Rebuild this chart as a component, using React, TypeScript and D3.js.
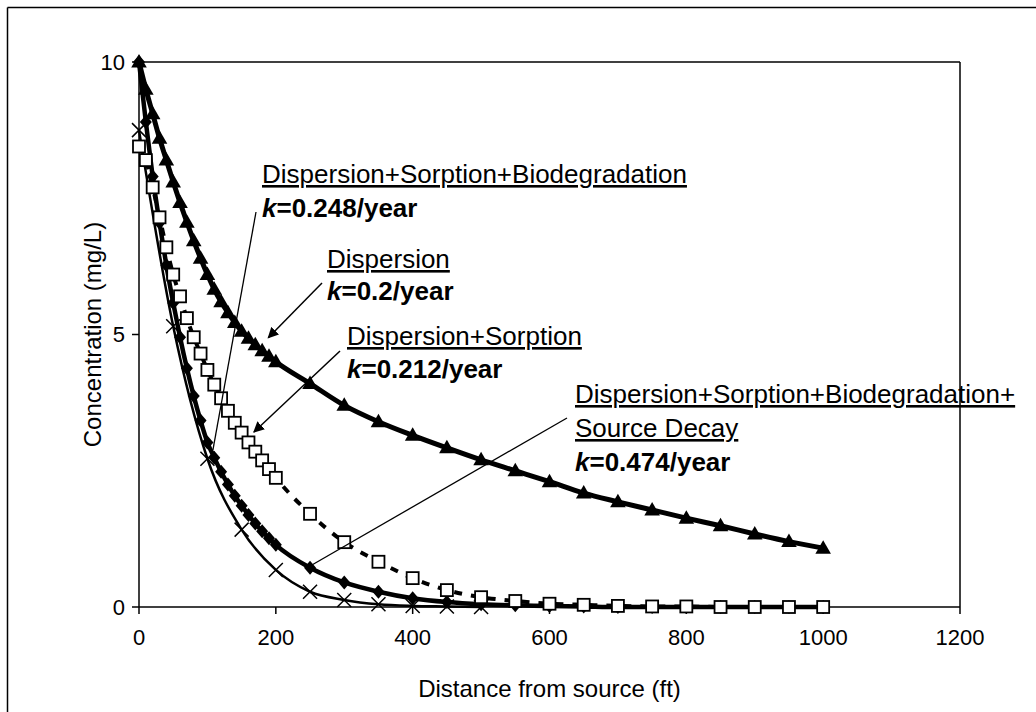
import React from "react";
import * as d3 from "d3";

// ---------- data ----------
const xDense = [0, 10, 20, 30, 40, 50, 60, 70, 80, 90, 100, 110, 120, 130, 140, 150, 160, 170, 180, 190, 200,
  250, 300, 350, 400, 450, 500, 550, 600, 650, 700, 750, 800, 850, 900, 950, 1000];

// Dispersion (triangles)
const dispersion = [10, 9.5, 9.05, 8.6, 8.2, 7.8, 7.42, 7.06, 6.72, 6.4, 6.1, 5.83, 5.6, 5.4, 5.22, 5.06, 4.93, 4.81, 4.7, 4.6, 4.5,
  4.1, 3.7, 3.4, 3.15, 2.92, 2.7, 2.5, 2.3, 2.09, 1.93, 1.78, 1.63, 1.49, 1.34, 1.2, 1.08];

// Dispersion + Sorption (open squares)
const dispSorption = [8.45, 8.2, 7.7, 7.15, 6.6, 6.1, 5.7, 5.3, 4.95, 4.65, 4.35, 4.08, 3.83, 3.6, 3.38, 3.2, 3.02, 2.85, 2.69, 2.53, 2.37,
  1.71, 1.19, 0.83, 0.53, 0.31, 0.18, 0.11, 0.06, 0.04, 0.02, 0.01, 0.01, 0, 0, 0, 0];

// Dispersion + Sorption + Biodegradation (diamonds)
const dispSorpBio = [10, 8.9, 7.9, 7.05, 6.27, 5.58, 4.95, 4.38, 3.87, 3.42, 3.02, 2.74, 2.48, 2.25, 2.04, 1.86, 1.69, 1.53, 1.39, 1.26, 1.14,
  0.72, 0.45, 0.28, 0.16, 0.09, 0.05, 0.03, 0.02, 0.01, 0, 0, 0, 0, 0, 0, 0];

// Dispersion + Sorption + Biodegradation + Source Decay (crosses)
const xSparse = [0, 50, 100, 150, 200, 250, 300, 350, 400, 450, 500];
const withDecay = [8.75, 5.15, 2.72, 1.42, 0.68, 0.28, 0.13, 0.05, 0.02, 0.01, 0];

const xTicks = [0, 200, 400, 600, 800, 1000, 1200];
const yTicks = [0, 5, 10];

// ---------- layout ----------
const W = 1036, H = 712;
const PL = 139, PR = 960, PT = 62, PB = 607;
const FONT = "'Liberation Sans', Arial, Helvetica, sans-serif";

export default function App() {
  const x = d3.scaleLinear().domain([0, 1200]).range([PL, PR]);
  const y = d3.scaleLinear().domain([0, 10]).range([PB, PT]);
  const line = d3.line<[number, number]>().x(d => x(d[0])).y(d => y(d[1])).curve(d3.curveMonotoneX);

  const tri = xDense.map((v, i) => [v, dispersion[i]] as [number, number]);
  const sq = xDense.map((v, i) => [v, dispSorption[i]] as [number, number]);
  const dia = xDense.map((v, i) => [v, dispSorpBio[i]] as [number, number]);
  const crs = xSparse.map((v, i) => [v, withDecay[i]] as [number, number]);

  const triPath = d3.symbol().type(d3.symbolTriangle).size(105)();
  const aFont = 26;

  const kLine = (val: string) => (
    <>
      <tspan fontStyle="italic">k</tspan>{"=" + val + "/year"}
    </>
  );

  return (
    <svg width={W} height={H} style={{ position: "absolute", left: 0, top: 0, background: "#fff" }} fontFamily={FONT}>
      <defs>
        <marker id="ah" viewBox="0 0 10 10" refX="9" refY="5" markerWidth="11" markerHeight="11" markerUnits="userSpaceOnUse" orient="auto">
          <path d="M0,0 L10,5 L0,10 Z" fill="#000" />
        </marker>
      </defs>
      <rect x={0} y={0} width={W} height={H} fill="#fff" />
      {/* outer frame */}
      <line x1={7.5} y1={7.5} x2={W} y2={7.5} stroke="#000" strokeWidth={1.5} />
      <line x1={7.5} y1={7.5} x2={7.5} y2={H} stroke="#000" strokeWidth={1.5} />

      {/* plot frame */}
      <line x1={PL} y1={PT} x2={PR} y2={PT} stroke="#000" strokeWidth={1.5} />
      <line x1={PR} y1={PT} x2={PR} y2={PB} stroke="#000" strokeWidth={1.5} />
      <line x1={PL} y1={PB} x2={PR} y2={PB} stroke="#000" strokeWidth={1.5} />
      <line x1={PL} y1={PT} x2={PL} y2={PB} stroke="#000" strokeWidth={1.5} />

      {/* y ticks */}
      {yTicks.map(t => (
        <g key={"y" + t}>
          <line x1={PL - 7} x2={PL} y1={y(t)} y2={y(t)} stroke="#000" strokeWidth={1.5} />
          <text x={PL - 14} y={y(t)} dy="0.36em" textAnchor="end" fontSize={22}>{t}</text>
        </g>
      ))}
      {/* x ticks */}
      {xTicks.map(t => (
        <g key={"x" + t}>
          <line x1={x(t)} x2={x(t)} y1={PB} y2={PB + 7} stroke="#000" strokeWidth={1.5} />
          <text x={x(t)} y={PB + 38} textAnchor="middle" fontSize={22}>{t}</text>
        </g>
      ))}
      <text x={(PL + PR) / 2} y={697} textAnchor="middle" fontSize={24}>Distance from source (ft)</text>
      <text transform={`translate(101,${(PT + PB) / 2}) rotate(-90)`} textAnchor="middle" fontSize={24}>Concentration (mg/L)</text>

      {/* series: diamonds */}
      <path d={line(dia) || ""} fill="none" stroke="#000" strokeWidth={4.5} />
      {dia.map((d, i) => (
        <path key={"d" + i} transform={`translate(${x(d[0])},${y(d[1])})`} d="M0,-7 L6,0 L0,7 L-6,0 Z" fill="#000" />
      ))}
      {/* series: crosses */}
      <path d={line(crs) || ""} fill="none" stroke="#000" strokeWidth={2.5} />
      {crs.map((d, i) => (
        <path key={"c" + i} transform={`translate(${x(d[0])},${y(d[1])})`} d="M-7,-7 L7,7 M-7,7 L7,-7" stroke="#000" strokeWidth={1.5} />
      ))}
      {/* series: squares */}
      <path d={line(sq) || ""} fill="none" stroke="#000" strokeWidth={4} strokeDasharray="8 9" />
      {sq.map((d, i) => (
        <rect key={"s" + i} x={x(d[0]) - 6} y={y(d[1]) - 6} width={12} height={12} fill="#fff" stroke="#000" strokeWidth={1.8} />
      ))}
      {/* series: triangles */}
      <path d={line(tri) || ""} fill="none" stroke="#000" strokeWidth={5} />
      {tri.map((d, i) => (
        <path key={"t" + i} transform={`translate(${x(d[0])},${y(d[1]) + 1})`} d={triPath || ""} fill="#000" />
      ))}

      {/* annotations */}
      <g fontSize={aFont} fill="#000">
        <text x={262} y={183} style={{ textDecoration: "underline" }}>Dispersion+Sorption+Biodegradation</text>
        <text x={262} y={217} fontWeight="bold">{kLine("0.248")}</text>
        <line x1={256} y1={212} x2={x(108)} y2={y(2.88)} stroke="#000" strokeWidth={1.3} />

        <text x={327} y={268} style={{ textDecoration: "underline" }}>Dispersion</text>
        <text x={327} y={300} fontWeight="bold">{kLine("0.2")}</text>
        <line x1={322} y1={283} x2={x(189)} y2={y(4.94)} stroke="#000" strokeWidth={1.5} markerEnd="url(#ah)" />

        <text x={347} y={345} style={{ textDecoration: "underline" }}>Dispersion+Sorption</text>
        <text x={347} y={378} fontWeight="bold">{kLine("0.212")}</text>
        <line x1={340} y1={351} x2={x(168)} y2={y(3.21)} stroke="#000" strokeWidth={1.5} markerEnd="url(#ah)" />

        <text x={575} y={403} style={{ textDecoration: "underline" }}>Dispersion+Sorption+Biodegradation+</text>
        <text x={575} y={437} style={{ textDecoration: "underline" }}>Source Decay</text>
        <text x={575} y={471} fontWeight="bold">{kLine("0.474")}</text>
        <line x1={567} y1={418} x2={x(247)} y2={y(0.73)} stroke="#000" strokeWidth={1.3} />
      </g>
    </svg>
  );
}
